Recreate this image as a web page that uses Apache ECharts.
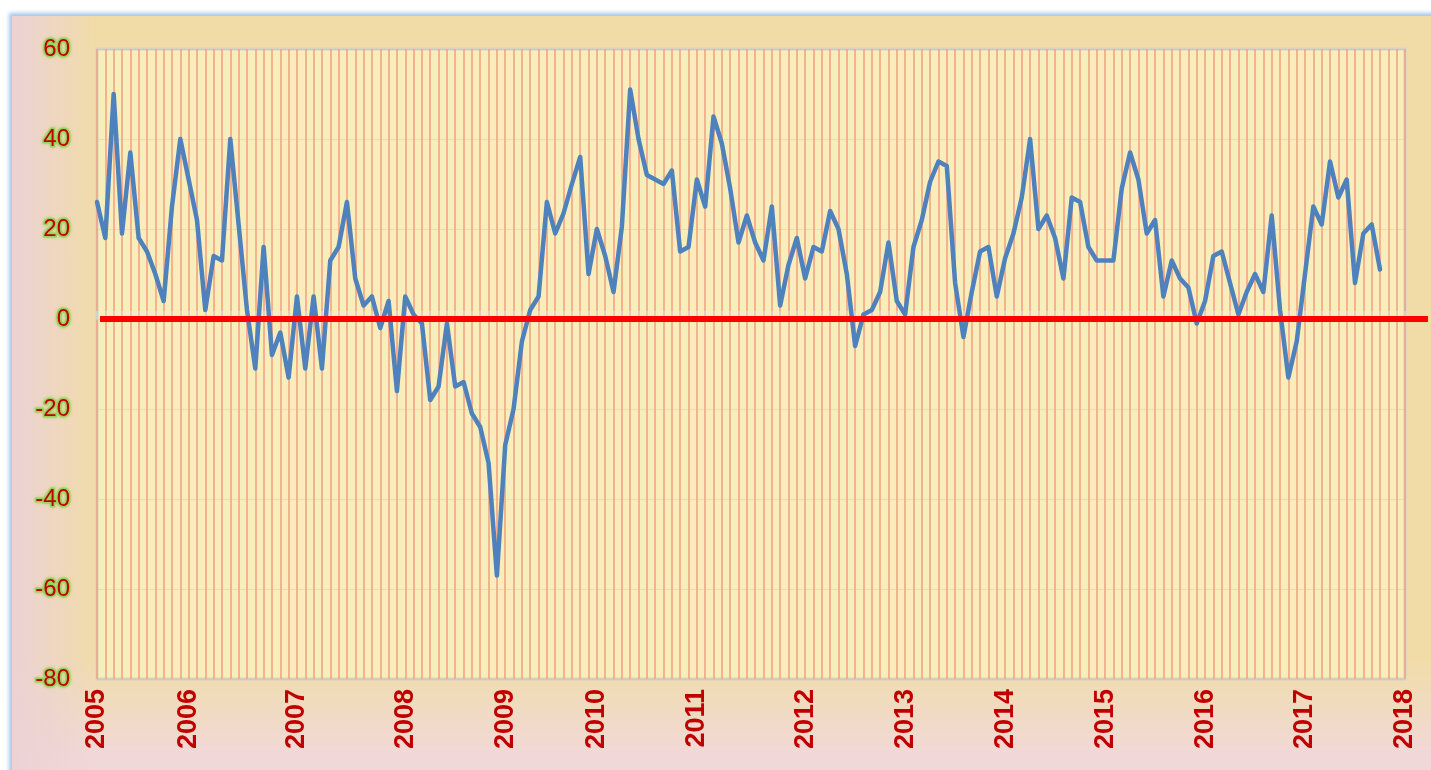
<!DOCTYPE html>
<html>
<head>
<meta charset="utf-8">
<script src="https://cdn.jsdelivr.net/npm/echarts@6.0.0/dist/echarts.min.js"></script>
<style>
  html, body { margin: 0; padding: 0; background: #ffffff; width: 1431px; height: 770px; overflow: hidden; }
  #frame {
    position: absolute; left: 12px; top: 16px; width: 1440px; height: 780px;
    box-shadow: 0 0 4px 3px #a7c6ee;
    background:
      linear-gradient(to right, rgba(236,210,212,1) 0px, rgba(236,210,212,0.6) 40px, rgba(236,210,212,0) 85px),
      linear-gradient(to bottom, #f1dca7 0px, #f1dca7 640px, #f0dbc0 690px, #f1d8d8 740px, #f1d8d8 780px);
  }
  #chart { position: absolute; left: 0; top: 0; width: 1431px; height: 770px; }
</style>
</head>
<body>
<div id="frame"></div>
<div id="chart"></div>
<script>
// ---- data ----
const categoryCount = 158;
const yearLabels = ['2005','2006','2007','2008','2009','2010','2011','2012','2013','2014','2015','2016','2017','2018'];
const yearLabelIndex = [0, 11, 24, 37, 49, 60, 72, 85, 97, 109, 121, 133, 145, 157];
const values = [
  26, 18, 50, 19, 37, 18, 15, 10, 4, 25,
  40, 31, 22, 2, 14, 13, 40, 21, 2, -11,
  16, -8, -3, -13, 5, -11, 5, -11, 13, 16,
  26, 9, 3, 5, -2, 4, -16, 5, 1, -1,
  -18, -15, -1, -15, -14, -21, -24, -32, -57, -28,
  -20, -5, 2, 5, 26, 19, 23.5, 30, 36, 10,
  20, 14, 6, 20.5, 51, 40, 32, 31, 30, 33,
  15, 16, 31, 25, 45, 39, 29, 17, 23, 17,
  13, 25, 3, 12, 18, 9, 16, 15, 24, 20,
  10, -6, 1, 2, 6, 17, 4, 1, 16, 22,
  30.5, 35, 34, 8, -4, 6, 15, 16, 5, 13.5,
  19, 27, 40, 20, 23, 18, 9, 27, 26, 16,
  13, 13, 13, 29, 37, 31, 19, 22, 5, 13,
  9, 7, -1, 4, 14, 15, 8, 1, 6, 10,
  6, 23, 2, -13, -5, 10, 25, 21, 35, 27,
  31, 8, 19, 21, 11
];
const yMin = -80, yMax = 60, yStep = 20;

// ---- build categories ----
const categories = [];
for (let i = 0; i < categoryCount; i++) categories.push('');
yearLabelIndex.forEach((idx, k) => { categories[idx] = yearLabels[k]; });

const chart = echarts.init(document.getElementById('chart'), null, { renderer: 'canvas' });
const option = {
  backgroundColor: 'transparent',
  animation: false,
  grid: {
    left: 97, right: 26, top: 49, bottom: 91,
    show: true,
    backgroundColor: '#f7eebb',
    borderColor: '#d6d2c8',
    borderWidth: 3
  },
  xAxis: [
    {
      type: 'category',
      data: categories,
      boundaryGap: false,
      position: 'bottom',
      axisLine: { show: false, onZero: false },
      axisTick: { show: false },
      axisLabel: {
        interval: function (index, value) { return value !== ''; },
        rotate: 90,
        margin: 10,
        color: '#c00000',
        fontSize: 27,
        fontWeight: 'bold',
        fontFamily: 'Liberation Sans, Arial, sans-serif',
        hideOverlap: false
      },
      splitLine: {
        show: true,
        interval: 0,
        lineStyle: { color: '#f5a282', width: 1.6 }
      }
    },
    {
      type: 'category',
      data: categories,
      boundaryGap: false,
      position: 'bottom',
      axisLine: { show: true, onZero: true, lineStyle: { color: '#d8d2c8', width: 1 } },
      axisTick: { show: true, inside: true, interval: 0, length: 8, lineStyle: { color: '#d5d0cb', width: 2 } },
      axisLabel: { show: false },
      splitLine: { show: false }
    }
  ],
  yAxis: {
    type: 'value',
    min: yMin, max: yMax, interval: yStep,
    axisLine: { show: false },
    axisTick: { show: false },
    splitLine: { show: true, lineStyle: { color: 'rgba(190,165,130,0.22)', width: 1 } },
    axisLabel: {
      margin: 27,
      color: '#c00000',
      fontSize: 24,
      fontFamily: 'Liberation Sans, Arial, sans-serif',
      textBorderColor: 'rgba(150,210,90,0.85)',
      textBorderWidth: 3,
      textShadowColor: 'rgba(146,208,80,0.9)',
      textShadowBlur: 3
    }
  },
  series: [
    {
      type: 'line',
      xAxisIndex: 0,
      data: values,
      symbol: 'none',
      lineStyle: { color: '#4f81bd', width: 4.5, join: 'round', cap: 'round' },
      z: 3
    }
  ]
};
chart.setOption(option);

// red zero line, positioned through the axes
const p0 = chart.convertToPixel({ gridIndex: 0 }, [0, 0]);
const rect = chart.getModel().getComponent('grid', 0).coordinateSystem.getRect();
chart.setOption({
  graphic: [{
    type: 'line',
    z: 100,
    shape: { x1: p0[0] + 3, y1: p0[1], x2: rect.x + rect.width + 23, y2: p0[1] },
    style: { stroke: '#ff0000', lineWidth: 6 }
  }]
});
</script>
</body>
</html>
